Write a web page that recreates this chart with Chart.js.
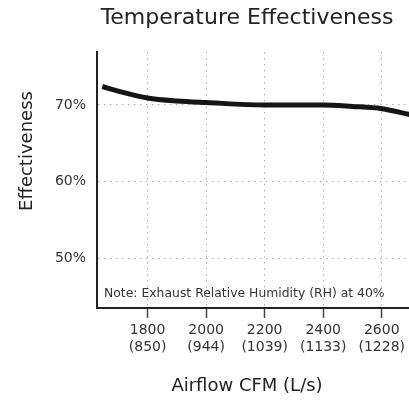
<!DOCTYPE html>
<html>
<head>
<meta charset="utf-8">
<script src="https://cdn.jsdelivr.net/npm/chart.js@4.4.0/dist/chart.umd.min.js"></script>
<style>
    html, body { margin: 0; padding: 0; background: #fff; }
</style>
</head>
<body>
<canvas id="effChart" width="409" height="400"></canvas>
<script>
const airflowCfm = [1645, 1700, 1800, 1900, 2000, 2200, 2400, 2500, 2600, 2700];
const effectiveness = [72.4, 71.8, 70.9, 70.5, 70.3, 70.0, 70.0, 69.8, 69.5, 68.7];
const cfmTicks = [1800, 2000, 2200, 2400, 2600];
const lpsTicks = [850, 944, 1039, 1133, 1228];
const effTicks = [50, 60, 70];

const FONT = "'DejaVu Sans', sans-serif";

// titles + note drawn on the canvas
const textPlugin = {
    id: "texts",
    afterDraw(chart) {
        const ctx = chart.ctx;
        ctx.save();
        ctx.fillStyle = "#222";
        ctx.textAlign = "center";
        ctx.textBaseline = "middle";
        ctx.font = "22px " + FONT;
        ctx.fillText("Temperature Effectiveness", 247, 18);
        ctx.font = "18px " + FONT;
        ctx.fillText("Airflow CFM (L/s)", 247, 386);
        ctx.translate(27, 151);
        ctx.rotate(-Math.PI / 2);
        ctx.fillText("Effectiveness", 0, 0);
        ctx.restore();

        ctx.save();
        ctx.fillStyle = "#333";
        ctx.font = "12.4px " + FONT;
        ctx.textAlign = "left";
        ctx.textBaseline = "middle";
        ctx.fillText("Note: Exhaust Relative Humidity (RH) at 40%", 104, 294);
        ctx.restore();
    },
};

new Chart(document.getElementById("effChart").getContext("2d"), {
    type: "line",
    data: {
        datasets: [
            {
                label: "Effectiveness",
                data: airflowCfm.map((x, i) => ({ x: x, y: effectiveness[i] })),
                borderColor: "#151515",
                borderWidth: 5,
                tension: 0.4,
                cubicInterpolationMode: "monotone",
                pointRadius: 0,
                fill: false,
            },
        ],
    },
    options: {
        responsive: false,
        animation: false,
        layout: { padding: { top: 52, right: 0, left: 0, bottom: 0 } },
        plugins: {
            legend: { display: false },
            title: { display: false },
            tooltip: { enabled: false },
        },
        scales: {
            x: {
                type: "linear",
                min: 1627,
                max: 2693,
                afterBuildTicks: (axis) => {
                    axis.ticks = cfmTicks.map((v) => ({ value: v }));
                },
                afterFit: (axis) => {
                    axis.height = 92;
                },
                border: { display: true, color: "#222", width: 2, dash: [1.5, 4.5] },
                grid: {
                    color: "#b0b0b0",
                    lineWidth: 1,
                    drawTicks: true,
                    tickLength: 10,
                    tickColor: "#444",
                    tickWidth: 1.5,
                    tickBorderDash: [1, 0],
                },
                ticks: {
                    color: "#333",
                    font: { family: FONT, size: 14 },
                    padding: 4,
                    maxRotation: 0,
                    callback: (value) => {
                        const i = cfmTicks.indexOf(value);
                        return [String(value), "(" + lpsTicks[i] + ")"];
                    },
                },
            },
            y: {
                min: 43.5,
                max: 76.9,
                afterBuildTicks: (axis) => {
                    axis.ticks = effTicks.map((v) => ({ value: v }));
                },
                afterFit: (axis) => {
                    axis.width = 97;
                },
                border: { display: true, color: "#222", width: 2, dash: [1.5, 4.5] },
                grid: {
                    color: "#b0b0b0",
                    lineWidth: 1,
                    drawTicks: false,
                },
                ticks: {
                    color: "#333",
                    font: { family: FONT, size: 14 },
                    padding: 11,
                    callback: (value) => value + "%",
                },
            },
        },
    },
    plugins: [textPlugin],
});
</script>
</body>
</html>
